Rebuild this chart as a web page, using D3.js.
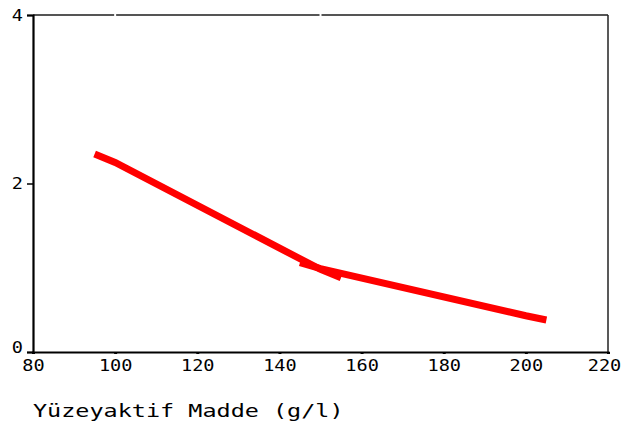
<!DOCTYPE html>
<html>
<head>
<meta charset="utf-8">
<script src="https://cdn.jsdelivr.net/npm/d3@7"></script>
<style>
  html, body { margin: 0; padding: 0; background: #fff; }
  svg { display: block; }
  .lbl { font-family: "DejaVu Sans Mono", monospace; fill: #000; }
</style>
</head>
<body>
<script>
// Two fitted segments of the response against surfactant concentration
const seriesLow = { x: [95, 100, 150, 155], y: [2.35, 2.25, 0.98, 0.88] };
const seriesHigh = { x: [145, 150, 200, 205], y: [1.06, 0.99, 0.43, 0.38] };
const xTicks = [80, 100, 120, 140, 160, 180, 200, 220];
const yTicks = [0, 2, 4];
const xTitle = "Yüzeyaktif Madde (g/l)";

const W = 623, H = 423;
const plotL = 33, plotR = 608, plotT = 15, plotB = 352;

const svg = d3.select("body").append("svg").attr("width", W).attr("height", H);

const x = d3.scaleLinear().domain([80, 220]).range([plotL, plotR]);
const y = d3.scaleLinear().domain([0, 4]).range([plotB, plotT]);

// plot frame
svg.append("line").attr("x1", plotL).attr("x2", plotR).attr("y1", plotT).attr("y2", plotT)
  .attr("stroke", "#555").attr("stroke-width", 2);
svg.append("line").attr("x1", plotR).attr("x2", plotR).attr("y1", plotT).attr("y2", plotB)
  .attr("stroke", "#222").attr("stroke-width", 1.5);
// small breaks in the top border
[100, 150].forEach(v => {
  svg.append("line").attr("x1", x(v)).attr("x2", x(v)).attr("y1", plotT - 2).attr("y2", plotT + 2)
    .attr("stroke", "#fff").attr("stroke-width", 2);
});

// x axis
const sx = 1.16;
const gx = svg.append("g").attr("transform", `translate(0,${plotB})`)
  .call(d3.axisBottom(x).tickValues(xTicks).tickSize(2).tickPadding(0).tickFormat(d3.format("d")));
gx.select(".domain").attr("stroke", "#000").attr("stroke-width", 2.2);
gx.selectAll(".tick line").attr("stroke", "#000").attr("stroke-width", 3);
gx.selectAll(".tick text").attr("class", "lbl")
  .attr("font-size", 16).attr("y", 8).attr("dy", "0.71em")
  .attr("x", d => d === 220 ? -4 / sx : 0)
  .attr("transform", `scale(${sx},1)`);

// y axis
const gy = svg.append("g").attr("transform", `translate(${plotL},0)`)
  .call(d3.axisLeft(y).tickValues(yTicks).tickSize(6).tickPadding(3).tickFormat(d3.format("d")));
gy.select(".domain").attr("stroke", "#000").attr("stroke-width", 2.2);
gy.selectAll(".tick line").attr("stroke", "#000").attr("stroke-width", 1.5);
gy.selectAll(".tick text").attr("class", "lbl")
  .attr("font-size", 16).attr("x", -10 / sx).attr("transform", `scale(${sx},1)`)
  .attr("dy", d => d === 0 ? "0.0em" : "0.32em");

// axis title
svg.append("text").attr("class", "lbl")
  .attr("font-size", 17.5)
  .attr("transform", `translate(${plotL},417) scale(1.34,1)`)
  .text(xTitle);

// data segments
const line = d3.line().x(d => x(d[0])).y(d => y(d[1]));
[seriesLow, seriesHigh].forEach(s => {
  const pts = s.x.map((v, i) => [v, s.y[i]]);
  svg.append("path").attr("d", line(pts))
    .attr("fill", "none").attr("stroke", "#ff0000")
    .attr("stroke-width", 7).attr("stroke-linecap", "butt").attr("stroke-linejoin", "miter");
});
</script>
</body>
</html>
